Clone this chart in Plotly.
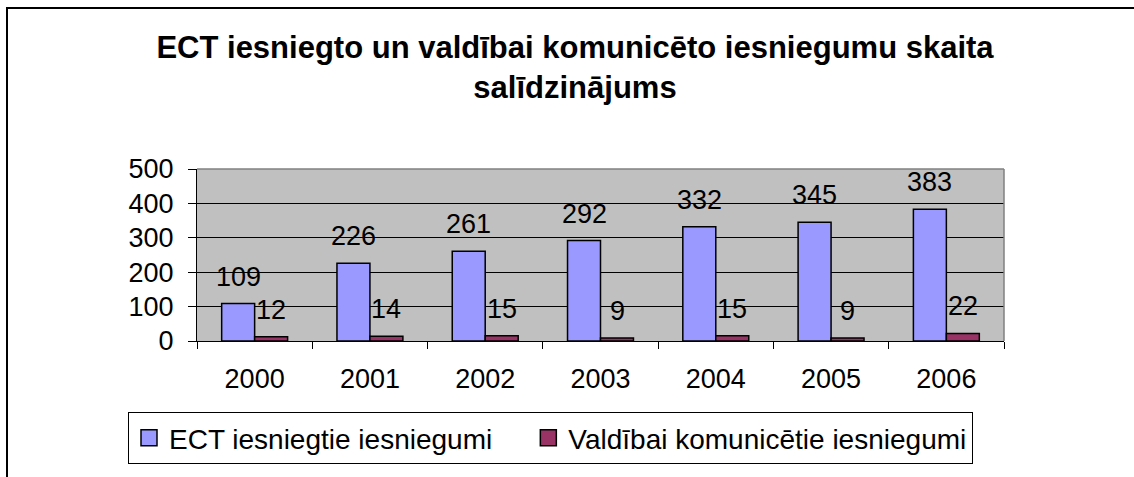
import plotly.graph_objects as go

# data
years = ["2000", "2001", "2002", "2003", "2004", "2005", "2006"]
ect_submitted = [109, 226, 261, 292, 332, 345, 383]
gov_communicated = [12, 14, 15, 9, 15, 9, 22]
series_names = ["ECT iesniegtie iesniegumi", "Valdībai komunicētie iesniegumi"]
series_colors = ["#9999FF", "#993366"]

FONT = "Liberation Sans, Arial, sans-serif"
W, H = 1134, 477
L, R, T, B = 197, 130, 169, 136  # plot area margins (px)
pw, ph = W - L - R, H - T - B


def px_x(x):
    return (x - L) / pw


def px_y(y):
    return (H - B - y) / ph


fig = go.Figure()
for vals, name, col in zip((ect_submitted, gov_communicated), series_names, series_colors):
    fig.add_trace(go.Bar(
        x=years, y=vals, name=name, showlegend=False,
        marker=dict(color=col, line=dict(color="black", width=1.5)),
    ))

# legend entries with bigger square swatches than plotly's bar icons
# (first name padded with nbsp so the second entry starts where it does in the original)
legend_pad = ["\u00a0" * 4, ""]
for name, col, pad in zip(series_names, series_colors, legend_pad):
    fig.add_trace(go.Scatter(
        x=[None], y=[None], mode="markers", name=name + pad,
        marker=dict(symbol="square", size=18, color=col,
                    line=dict(color="black", width=1.5)),
    ))

# value labels, floating a bit above each bar like the original
# (numeric index on the category axis, "2000" would be read as an index)
for vals, shift in ((ect_submitted, -16.5), (gov_communicated, 16.5)):
    for i, v in enumerate(vals):
        fig.add_annotation(
            x=i, y=v, text=str(v), showarrow=False,
            xshift=shift, yshift=27, yanchor="middle",
            font=dict(family=FONT, size=27, color="black"),
        )

fig.update_layout(
    width=W, height=H,
    margin=dict(l=L, r=R, t=T, b=B, autoexpand=False),
    paper_bgcolor="white",
    plot_bgcolor="#C0C0C0",
    barmode="group", bargap=0.428, bargroupgap=0,
    font=dict(family=FONT, size=27, color="black"),
    title=dict(
        text="<b>ECT iesniegto un valdībai komunicēto iesniegumu skaita<br>salīdzinājums</b>",
        x=575 / W, xanchor="center", y=1 - 58 / H, yanchor="top",
        font=dict(family=FONT, size=31, color="black"),
    ),
    showlegend=True,
    legend=dict(
        orientation="h", x=px_x(128), y=px_y(412), xanchor="left", yanchor="top",
        bordercolor="black", borderwidth=1, bgcolor="white",
        itemsizing="trace",
        font=dict(family=FONT, size=28, color="black"),
    ),
)

fig.update_xaxes(
    type="category", showgrid=False, tickson="boundaries",
    ticks="outside", ticklen=7, tickcolor="black", tickwidth=1,
    showline=True, linecolor="black", linewidth=1,
    ticklabelstandoff=14,
    tickfont=dict(family=FONT, size=27, color="black"),
)
fig.update_yaxes(
    range=[0, 500], dtick=100, showgrid=True, gridcolor="black", gridwidth=1,
    ticks="outside", ticklen=8, tickcolor="black", tickwidth=1,
    showline=True, linecolor="black", linewidth=1, zeroline=False,
    ticklabelstandoff=9,
    tickfont=dict(family=FONT, size=27, color="black"),
)

# gray frame on top / right of the plot area
fig.add_shape(type="line", xref="paper", yref="paper", x0=0, x1=1, y0=1, y1=1,
              line=dict(color="#808080", width=1.5), layer="above")
fig.add_shape(type="line", xref="paper", yref="paper", x0=1, x1=1, y0=0, y1=1,
              line=dict(color="#808080", width=1.5), layer="above")

# outer chart border (runs off the right and bottom of the picture)
fig.add_shape(type="rect", xref="paper", yref="paper",
              x0=px_x(7), x1=px_x(1200), y0=px_y(520), y1=px_y(8),
              line=dict(color="black", width=2), layer="above")

# drop the browser's default 8px body margin so the chart sits at 0,0
fig.write_html("out.html", config={"displayModeBar": False},
               post_script="document.body.style.margin='0px';")
